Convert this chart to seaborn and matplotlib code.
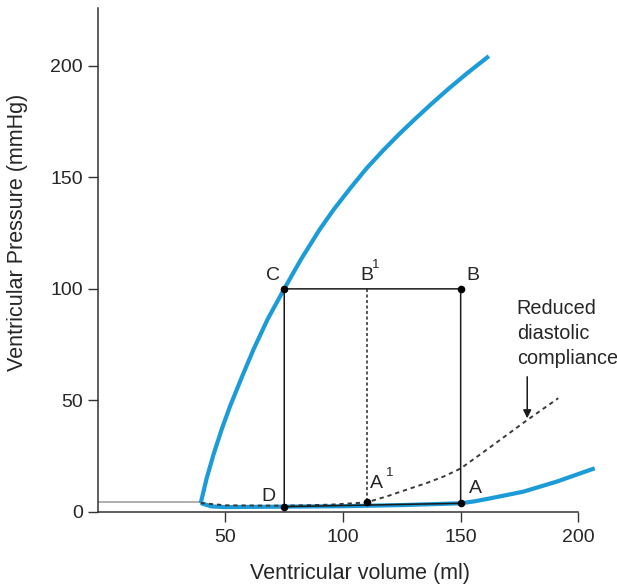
import numpy as np
import pandas as pd
import matplotlib
matplotlib.use("Agg")
import matplotlib.pyplot as plt
import seaborn as sns

# ---- data ----
espvr_x = [39.5, 42, 45, 48.5, 52, 57, 62, 68, 75, 82, 90, 96, 103, 110, 117, 124, 131, 138, 145, 152.6, 162]
espvr_y = [4, 15, 26, 37.3, 47.5, 60.5, 73, 86.5, 100, 113, 126.5, 135.5, 145, 154, 162, 169.5, 176.5, 183.3, 189.8, 196.5, 204.3]

edpvr_x = [39.5, 44, 50, 75, 100, 125, 150, 156, 162.5, 176.6, 190.8, 207]
edpvr_y = [4, 2.5, 2.2, 2.4, 2.6, 3.1, 3.9, 4.8, 6.1, 9.1, 13.6, 19.6]

reduced_x = [39.5, 50, 75, 95, 110, 118.6, 127, 135.6, 143, 150, 162.5, 178, 191.5]
reduced_y = [4, 3.0, 2.8, 3.3, 4.3, 7.0, 10.0, 13.0, 16.0, 19.5, 29.0, 41.0, 51.0]

loop_labels = ["D", "A", "B", "C", "D"]
loop_x = [75, 150, 150, 75, 75]
loop_y = [2.4, 3.9, 100, 100, 2.4]

b1_x = [110, 110]
b1_y = [100, 4.3]

point_labels = ["C", "B", "D", "A", "A1"]
point_x = [75, 150, 75, 150, 110]
point_y = [100, 100, 2.4, 3.9, 4.3]

base_x = [-4, 39.5]
base_y = [4.3, 4.3]

yticks = [0, 50, 100, 150, 200]
xticks = [50, 100, 150, 200]

# ---- style ----
sns.set_style("ticks")
plt.rcParams["font.family"] = ["Liberation Sans", "DejaVu Sans"]
TXT = "#262626"
BLUE = "#1b9bd7"

fig = plt.figure(figsize=(6.17, 5.84), dpi=100)
ax = fig.add_axes([98.4 / 617, 72 / 584, 508.1 / 617, 504.3 / 584])

# thin baseline
sns.lineplot(x=base_x, y=base_y, ax=ax, color="#9a9a9a", linewidth=1.1, estimator=None, sort=False)

# pressure-volume relations (blue)
sns.lineplot(x=espvr_x, y=espvr_y, ax=ax, color=BLUE, linewidth=3.0, estimator=None, sort=False)
sns.lineplot(x=edpvr_x, y=edpvr_y, ax=ax, color=BLUE, linewidth=3.0, estimator=None, sort=False)

# reduced compliance (dashed)
sns.lineplot(x=reduced_x, y=reduced_y, ax=ax, color="#3a3a3a", linewidth=1.4, estimator=None, sort=False)
ax.lines[-1].set_dashes((2.2, 2.0))

# PV loop
sns.lineplot(x=loop_x, y=loop_y, ax=ax, color="#1a1a1a", linewidth=1.1, estimator=None, sort=False)

# B1 - A1 dashed vertical
sns.lineplot(x=b1_x, y=b1_y, ax=ax, color="#2a2a2a", linewidth=1.1, estimator=None, sort=False)
ax.lines[-1].set_dashes((2.0, 1.6))

# points
sns.scatterplot(x=point_x, y=point_y, ax=ax, color="black", s=30, linewidth=0, zorder=5)

for ln in ax.lines:
    ln.set_solid_capstyle("butt")
    ln.set_solid_joinstyle("round")

# labels on the diagram
fs = 14
ax.text(70.3, 106.2, "C", fontsize=fs, color=TXT, ha="center", va="center")
ax.text(110.1, 106.2, "B", fontsize=fs, color=TXT, ha="center", va="center")
ax.text(113.8, 110.8, "1", fontsize=9.5, color=TXT, ha="center", va="center")
ax.text(155.0, 106.2, "B", fontsize=fs, color=TXT, ha="center", va="center")
ax.text(68.2, 6.9, "D", fontsize=fs, color=TXT, ha="center", va="center")
ax.text(114.3, 12.9, "A", fontsize=fs, color=TXT, ha="center", va="center")
ax.text(119.8, 17.4, "1", fontsize=9.5, color=TXT, ha="center", va="center")
ax.text(156.1, 10.6, "A", fontsize=fs, color=TXT, ha="center", va="center")

ax.text(173.8, 95.5, "Reduced\ndiastolic\ncompliance", fontsize=14.3, color=TXT,
        ha="left", va="top", linespacing=1.4, clip_on=False)
ax.annotate("", xy=(178.3, 42.0), xytext=(178.3, 60.6),
            arrowprops=dict(arrowstyle="-|>", color="#1a1a1a", lw=1.1,
                            mutation_scale=12, shrinkA=0, shrinkB=0))

# axes
ax.set_xlim(-4, 212)
ax.set_ylim(0, 226)
ax.set_xticks(xticks)
ax.set_yticks(yticks)
ax.set_xticklabels([str(t) for t in xticks])
ax.set_yticklabels([str(t) for t in yticks])
sns.despine(ax=ax)
ax.spines["bottom"].set_bounds(-4, 200)
for sp in ["left", "bottom"]:
    ax.spines[sp].set_linewidth(1.1)
    ax.spines[sp].set_color("#333333")
ax.tick_params(axis="both", direction="out", length=7.2, width=1.0, color="#333333",
               labelsize=14, labelcolor=TXT)
ax.tick_params(axis="x", pad=5)
ax.tick_params(axis="y", pad=4)

ax.set_xlabel("Ventricular volume (ml)", fontsize=15.5, color=TXT)
ax.set_ylabel("Ventricular Pressure (mmHg)", fontsize=15.5, color=TXT)
ax.xaxis.label.set_va("center")
ax.yaxis.label.set_va("center")
ax.xaxis.set_label_coords((360 - 98.4) / 508.1, (512 - 573) / 504.3)
ax.yaxis.set_label_coords((18 - 98.4) / 508.1, (512 - 232) / 504.3)

fig.savefig("out.png", dpi=100)
